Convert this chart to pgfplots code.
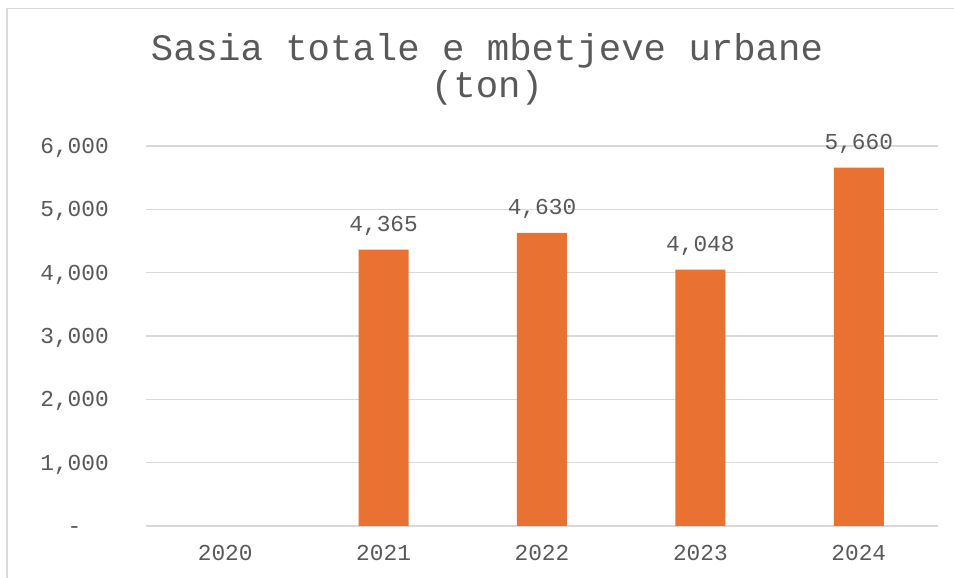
\documentclass[border=0pt]{standalone}
\usepackage{fontspec}
\setmainfont{Liberation Mono}
\usepackage{pgfplots}
\pgfplotsset{compat=1.18}
\definecolor{barorange}{HTML}{E97132}
\definecolor{txtgray}{HTML}{595959}
\definecolor{gridgray}{HTML}{D9D9D9}
\definecolor{framegray}{HTML}{D9D9D9}
\pgfplotstableread{
x y lab
1 4365 4,365
2 4630 4,630
3 4048 4,048
4 5660 5,660
}\mydata
\begin{document}
\begin{tikzpicture}
\useasboundingbox (0,0) rectangle (715.5pt,433.5pt);
\fill[white] (0,0) rectangle (715.5pt,433.5pt);
\draw[framegray, line width=0.9pt] (5.25pt,0) -- (5.25pt,427.1pt) -- (715.5pt,427.1pt);
\node[anchor=base, inner sep=0pt, text=txtgray, font=\fontsize{28}{32}\selectfont] at (365.25pt,388pt) {Sasia totale e mbetjeve urbane};
\node[anchor=base, inner sep=0pt, text=txtgray, font=\fontsize{28}{32}\selectfont] at (365.25pt,360.5pt) {(ton)};
\begin{axis}[
  at={(109.5pt,39pt)}, anchor=south west,
  scale only axis, width=594pt, height=285pt,
  xmin=-0.5, xmax=4.5, ymin=0, ymax=6000,
  axis line style={draw=none},
  major tick length=0pt,
  xtick={0,1,2,3,4},
  xticklabels={2020,2021,2022,2023,2024},
  ytick={0,1000,2000,3000,4000,5000,6000},
  yticklabels={{-\phantom{00}},{1,000},{2,000},{3,000},{4,000},{5,000},{6,000}},
  ymajorgrids,
  major grid style={gridgray, line width=0.8pt},
  tick label style={text=txtgray, font=\fontsize{17.1}{20}\selectfont, inner sep=0pt},
  xticklabel style={anchor=base, yshift=-26.25pt},
  yticklabel style={anchor=base east, xshift=-27.75pt, yshift=-5.6pt},
  ybar, bar width=37.5pt,
  point meta=explicit symbolic,
  nodes near coords,
  every node near coord/.append style={anchor=base, yshift=13.5pt, inner sep=0pt, text=txtgray, font=\fontsize{17.1}{20}\selectfont},
  clip=false,
]
\addplot[fill=barorange, draw=none] table[x=x, y=y, meta=lab] {\mydata};
\end{axis}
\end{tikzpicture}
\end{document}
